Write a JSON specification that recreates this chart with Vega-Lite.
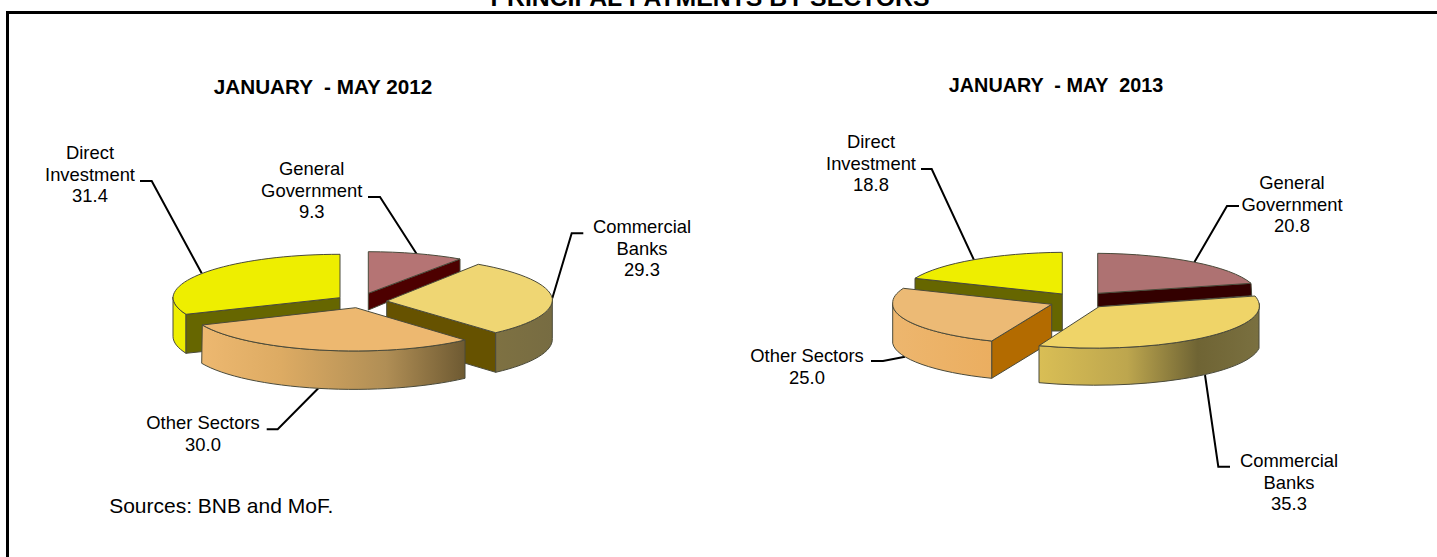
{
"$schema":"https://vega.github.io/schema/vega-lite/v6.json",
"width":1432.5,"height":548,
"padding":{"left":7.5,"top":12.5,"right":-3,"bottom":-3.5},
"autosize":{"type":"none"},
"background":"white",
"config":{"view":{"stroke":"black","strokeWidth":3},"font":"Liberation Sans"},
"datasets":{
"sectors":[
{"year":2012,"sector":"Direct Investment","value":31.4,"label":"Direct\nInvestment\n31.4"},
{"year":2012,"sector":"General Government","value":9.3,"label":"General\nGovernment\n9.3"},
{"year":2012,"sector":"Commercial Banks","value":29.3,"label":"Commercial\nBanks\n29.3"},
{"year":2012,"sector":"Other Sectors","value":30.0,"label":"Other Sectors\n30.0"},
{"year":2013,"sector":"Direct Investment","value":18.8,"label":"Direct\nInvestment\n18.8"},
{"year":2013,"sector":"General Government","value":20.8,"label":"General\nGovernment\n20.8"},
{"year":2013,"sector":"Commercial Banks","value":35.3,"label":"Commercial\nBanks\n35.3"},
{"year":2013,"sector":"Other Sectors","value":25.0,"label":"Other Sectors\n25.0"}
],
"wedges":[
{"year":2012,"id":"d12L","part":"leader"},{"year":2012,"id":"g12L","part":"leader"},{"year":2012,"id":"c12L","part":"leader"},{"year":2012,"id":"o12L","part":"leader"},
{"year":2013,"id":"d13L","part":"leader"},{"year":2013,"id":"g13L","part":"leader"},{"year":2013,"id":"c13L","part":"leader"},{"year":2013,"id":"o13L","part":"leader"},
{"year":2012,"id":"d12S","part":"back"},{"year":2012,"id":"d12I","part":"back"},{"year":2012,"id":"d12T","part":"back"},{"year":2012,"id":"g12I","part":"back"},{"year":2012,"id":"g12T","part":"back"},{"year":2012,"id":"c12I","part":"back"},
{"year":2013,"id":"d13I","part":"back"},{"year":2013,"id":"d13T","part":"back"},{"year":2013,"id":"g13I","part":"back"},{"year":2013,"id":"g13T","part":"back"},{"year":2013,"id":"o13I","part":"back"},
{"year":2012,"id":"c12S","part":"sideC12"},{"year":2012,"id":"o12S","part":"sideO12"},{"year":2013,"id":"c13S","part":"sideC13"},{"year":2013,"id":"o13S","part":"sideO13"},
{"year":2012,"id":"c12T","part":"top"},{"year":2012,"id":"o12T","part":"top"},{"year":2013,"id":"c13T","part":"top"},{"year":2013,"id":"o13T","part":"top"}
],
"notes":[
{"order":1,"note":"JANUARY \u00a0- MAY 2012","kind":"heading"},
{"order":2,"note":"JANUARY \u00a0- MAY \u00a02013","kind":"heading"},
{"order":3,"note":"Sources: BNB and MoF.","kind":"source"},
{"order":4,"note":"PRINCIPAL PAYMENTS BY SECTORS","kind":"title"}
]
},
"resolve":{"scale":{"x":"independent","y":"independent","color":"independent","size":"independent"}},
"layer":[
{
"data":{"name":"wedges"},
"encoding":{
"x":{"field":"year","type":"quantitative","axis":null,"scale":{"domain":[2012,2013],"range":[332.5,1072.5],"zero":false,"nice":false}},
"y":{"field":"year","type":"quantitative","axis":null,"scale":{"domain":[2012,2013],"range":[287.5,287.5],"zero":false,"nice":false}},
"size":{"value":4},
"shape":{"field":"id","type":"nominal","legend":null,"scale":{"domain":["d12L","g12L","c12L","o12L","d13L","g13L","c13L","o13L","d12S","d12I","d12T","g12I","g12T","c12I","c12S","c12T","o12S","o12T","d13I","d13T","g13I","g13T","c13S","c13T","o13I","o13S","o13T"],
"range":[
"M-200 -119 L-188.3 -119 L-138.3 -26.7",
"M28 -103 L40 -103 L76.7 -46",
"M243.3 -66.7 L231.7 -66.7 L212.3 -1.7",
"M-73.3 129.3 L-62.3 129.3 L-21.7 88.3",
"M-159 -131 L-148.3 -131 L-105.7 -39.3",
"M159 -94 L147 -94 L114.3 -37.7",
"M150 166.7 L138.3 166.7 L125 75",
"M-209 61 L-197 61 L-175 56.7",
"M-167 -3 A167 44 0 0 0 -154 14.3 L-154 53.3 A167 44 0 0 1 -167 36.7 Z",
"M-154 14.3 L0 -2.3 L0 37 L-154 53.3 Z",
"M0 -2.3 L0 -45.7 A167 44 0 0 0 -167 -3 A167 44 0 0 0 -154 14.3 Z",
"M28.3 -6.7 L120 -41 L120 -28 L28.3 10 Z",
"M28.3 -6.7 L28.3 -48.3 A167 44 0 0 1 120 -41 Z",
"M46.7 1 L155.7 32.7 L155.7 72.3 L46.7 40 Z",
"M155.7 32.7 A167 44 0 0 0 212.3 -1.7 L212.3 38.3 A167 44 0 0 1 155.7 72.3 Z",
"M46.7 1 L138.3 -35.7 A167 44 0 0 1 212.3 -1.7 A167 44 0 0 1 155.7 32.7 Z",
"M-137.7 25 A167 44 0 0 0 125 40 L125 78.3 A167 44 0 0 1 -138.3 63.3 Z",
"M15.7 7.7 L125 40 A167 44 0 0 1 -137.7 25 Z",
"M-165 -21.7 L-17.7 -6 L-17.7 31 L-29 31 L-165 -10 Z",
"M-17.7 -6 L-17.7 -47.7 A165 42 0 0 0 -165 -21.7 Z",
"M17.7 -6.7 L171 -16.7 L171.7 -4.3 L17.7 6.7 Z",
"M17.7 -6.7 L17.7 -46.7 A165 42 0 0 1 171 -16.7 Z",
"M-41 45.7 A165 42 0 0 0 179 3.3 L179 48.3 A165 42 0 0 1 -41 82.7 Z",
"M19 6.7 L175 -4 A165 42 0 0 1 179 3.3 A165 42 0 0 1 -41 45.7 Z",
"M-88.3 41 L-28.3 4.3 L-28.3 41.7 L-88.3 78.3 Z",
"M-187.3 3.3 A159 40 0 0 0 -88.3 41 L-88.3 78.3 A159 40 0 0 1 -187.3 43.3 Z",
"M-176.7 -11.7 L-28.3 4.3 L-88.3 41 A159 40 0 0 1 -187.3 3.3 A159 40 0 0 1 -176.7 -11.7 Z"
]}},
"color":{"field":"id","type":"nominal","legend":null,"scale":{"domain":["d12S","d12I","d12T","g12I","g12T","c12I","d13I","d13T","g13I","g13T","o13I","c12T","o12T","c13T","o13T"],"range":["#EEEE00","#666600","#EEEE00","#4D0000","#B57474","#665200","#666600","#EEEE00","#330000","#AE7272","#B36B00","#EFD673","#EDB870","#EFD468","#ECBA75"]}}
},
"layer":[
{"transform":[{"filter":"datum.part=='leader'"}],"mark":{"type":"point","filled":false,"stroke":"black","strokeWidth":2,"opacity":1},"encoding":{"color":{"value":"black"}}},
{"transform":[{"filter":"datum.part=='back'"}],"mark":{"type":"point","filled":true,"stroke":"#4a4a3a","strokeWidth":1,"opacity":1}},
{"transform":[{"filter":"datum.part=='sideC12'"}],"mark":{"type":"point","filled":true,"stroke":"#4a4a3a","strokeWidth":1,"opacity":1,"fill":{"gradient":"linear","x1":0,"y1":0,"x2":1,"y2":0,"stops":[{"offset":0,"color":"#7E7142"},{"offset":1,"color":"#776C42"}]}},"encoding":{"color":{"value":null}}},
{"transform":[{"filter":"datum.part=='sideO12'"}],"mark":{"type":"point","filled":true,"stroke":"#4a4a3a","strokeWidth":1,"opacity":1,"fill":{"gradient":"linear","x1":0,"y1":0,"x2":1,"y2":0,"stops":[{"offset":0,"color":"#EDB870"},{"offset":0.3,"color":"#DDAB63"},{"offset":0.7,"color":"#B08E55"},{"offset":1,"color":"#6E5A32"}]}},"encoding":{"color":{"value":null}}},
{"transform":[{"filter":"datum.part=='sideC13'"}],"mark":{"type":"point","filled":true,"stroke":"#4a4a3a","strokeWidth":1,"opacity":1,"fill":{"gradient":"linear","x1":0,"y1":0,"x2":1,"y2":0,"stops":[{"offset":0,"color":"#D9BE55"},{"offset":0.4,"color":"#BDA64E"},{"offset":0.72,"color":"#6F6434"},{"offset":1,"color":"#7A7040"}]}},"encoding":{"color":{"value":null}}},
{"transform":[{"filter":"datum.part=='sideO13'"}],"mark":{"type":"point","filled":true,"stroke":"#4a4a3a","strokeWidth":1,"opacity":1,"fill":{"gradient":"linear","x1":0,"y1":0,"x2":1,"y2":0,"stops":[{"offset":0,"color":"#EDB66E"},{"offset":1,"color":"#EBAE60"}]}},"encoding":{"color":{"value":null}}},
{"transform":[{"filter":"datum.part=='top'"}],"mark":{"type":"point","filled":true,"stroke":"#4a4a3a","strokeWidth":1,"opacity":1}}
]
},
{
"data":{"name":"sectors"},
"mark":{"type":"text","font":"Liberation Sans","fontSize":18.4,"lineBreak":"\n","lineHeight":21.5,"align":"center","baseline":"middle","color":"black"},
"encoding":{
"text":{"field":"label"},
"x":{"field":"value","type":"quantitative","axis":null,"scale":{"domain":[9.3,18.8,20.8,25,29.3,30,31.4,35.3],"range":[304.2,863.5,1284.5,799.5,634.5,195.5,82.5,1281.5],"zero":false,"nice":false}},
"y":{"field":"value","type":"quantitative","axis":null,"scale":{"domain":[9.3,18.8,20.8,25,29.3,30,31.4,35.3],"range":[156.5,129.5,170.5,343.5,214.5,410.8,140.5,448.5],"zero":false,"nice":false}}
}
},
{
"data":{"name":"notes"},
"encoding":{
"text":{"field":"note"},
"x":{"field":"order","type":"quantitative","axis":null,"scale":{"domain":[1,2,3,4],"range":[315.5,1048.5,213.7,702.5],"zero":false,"nice":false}},
"y":{"field":"order","type":"quantitative","axis":null,"scale":{"domain":[1,2,3,4],"range":[75.5,73.5,494.3,-6.5],"zero":false,"nice":false}},
"size":{"field":"order","type":"quantitative","legend":null,"scale":{"domain":[1,2,3,4],"range":[20.7,19.8,21,24.8],"zero":false,"nice":false}}
},
"layer":[
{"transform":[{"filter":"datum.kind=='heading'"}],"mark":{"type":"text","font":"Liberation Sans","fontWeight":"bold","align":"center","baseline":"middle","color":"black"}},
{"transform":[{"filter":"datum.kind=='source'"}],"mark":{"type":"text","font":"Liberation Sans","align":"center","baseline":"middle","color":"black"}},
{"transform":[{"filter":"datum.kind=='title'"}],"mark":{"type":"text","font":"Liberation Sans","fontWeight":"bold","align":"center","baseline":"alphabetic","color":"black"}}
]
}
]
}
